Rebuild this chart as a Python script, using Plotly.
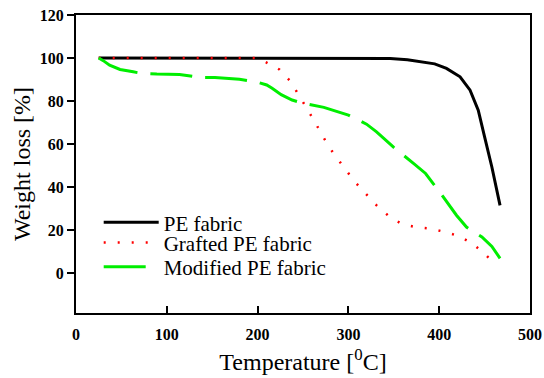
import plotly.graph_objects as go

# PE fabric (black solid)
pe_T = [25, 100, 200, 300, 330, 346, 365, 382, 395, 408, 423, 434, 443, 450, 458, 467]
pe_W = [100, 100, 100, 100, 100, 99.8, 99.2, 98.3, 97.3, 95.2, 91.3, 85.1, 75.8, 63.4, 49.4, 31.6]

# Grafted PE fabric (red dotted)
gr_T = [25, 100, 200, 209, 224, 236, 246, 255, 264, 273, 283, 294, 306, 318, 331, 344,
        358, 374, 390, 407, 421, 435, 449, 462]
gr_W = [100, 100, 100, 98.1, 94.7, 89.3, 82.6, 76.1, 69.6, 62.8, 56.1, 49.8, 43.1, 37.5,
        31.6, 26.8, 23.1, 21.5, 20.8, 19.2, 17.4, 14.3, 9.6, 3.9]

# Modified PE fabric (green long dash)
mo_T = [25, 30, 37, 48.5, 63, 72, 89, 114, 136.5, 153, 180, 200, 210, 216, 226, 238, 250,
        260, 273, 300, 320, 331, 350, 372, 385, 401, 419, 430, 447, 458, 467]
mo_W = [100, 98.8, 96.7, 94.7, 93.6, 92.9, 92.6, 92.4, 91.0, 91.0, 90.2, 88.8, 87.5, 86.0,
        83.0, 80.5, 79.0, 78.1, 77.1, 73.5, 69.3, 65.7, 58.5, 51.0, 46.4, 37.5, 27.0, 21.5,
        16.9, 12.5, 7.0]

x_ticks = [0, 100, 200, 300, 400, 500]
y_ticks = [0, 20, 40, 60, 80, 100, 120]

SERIF = "Liberation Serif"

fig = go.Figure()
fig.add_trace(go.Scatter(x=pe_T, y=pe_W, mode="lines", name="PE fabric",
                         line=dict(color="#000000", width=3), legend="legend"))
fig.add_trace(go.Scatter(x=gr_T, y=gr_W, mode="lines", name="Grafted PE fabric",
                         line=dict(color="#ff0000", width=2.5, dash="2px,12px"),
                         legend="legend2"))
fig.add_trace(go.Scatter(x=mo_T, y=mo_W, mode="lines", name="Modified PE fabric",
                         line=dict(color="#00ee00", width=3, dash="42px,13px"),
                         legend="legend3"))

def leg(y):
    return dict(x=0.05, y=y, xanchor="left", yanchor="middle",
                font=dict(family=SERIF, size=21, color="black"),
                itemwidth=55, bgcolor="rgba(0,0,0,0)")

fig.update_layout(
    width=544, height=378,
    margin=dict(l=76, r=14, t=15, b=65),
    paper_bgcolor="white", plot_bgcolor="white",
    font=dict(family=SERIF, color="black"),
    showlegend=True,
    legend=leg(0.303), legend2=leg(0.235), legend3=leg(0.154),
)
fig.update_xaxes(
    range=[0, 500], tickvals=x_ticks, ticktext=[str(v) for v in x_ticks],
    automargin=False,
    showline=True, linewidth=2, linecolor="black", mirror=True,
    ticks="inside", ticklen=7, tickwidth=2, tickcolor="black",
    showgrid=False, zeroline=False,
    tickfont=dict(family=SERIF, size=16, color="black", weight="bold"),
    ticklabelstandoff=6,
    title=dict(text="Temperature [<sup>0</sup>C]", font=dict(family=SERIF, size=24),
               standoff=11),
)
fig.update_yaxes(
    range=[-18.4, 120], tickvals=y_ticks, ticktext=[str(v) for v in y_ticks],
    automargin=False,
    showline=True, linewidth=2, linecolor="black", mirror=True,
    ticks="outside", ticklen=7, tickwidth=2, tickcolor="black",
    showgrid=False, zeroline=False,
    tickfont=dict(family=SERIF, size=16, color="black", weight="bold"),
    title=dict(text="Weight loss [%]", font=dict(family=SERIF, size=24), standoff=2),
)

fig.write_html("out.html")
